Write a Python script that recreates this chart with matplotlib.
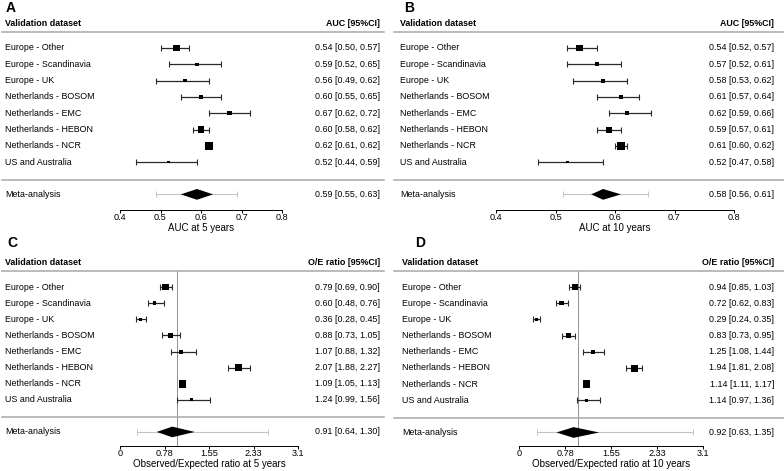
"""
Forest plots: AUC and O/E ratio per validation dataset, with meta-analysis.
"""

import numpy as np
import matplotlib
matplotlib.use("Agg")
import matplotlib.pyplot as plt
from matplotlib import transforms

plt.rcParams['font.family'] = ['Liberation Sans', 'DejaVu Sans']

W, H = 784, 471

datasets = ['Europe - Other', 'Europe - Scandinavia', 'Europe - UK',
            'Netherlands - BOSOM', 'Netherlands - EMC', 'Netherlands - HEBON',
            'Netherlands - NCR', 'US and Australia']

# (A) AUC at 5 years
auc5_est = [0.54, 0.59, 0.56, 0.60, 0.67, 0.60, 0.62, 0.52]
auc5_lo = [0.50, 0.52, 0.49, 0.55, 0.62, 0.58, 0.61, 0.44]
auc5_hi = [0.57, 0.65, 0.62, 0.65, 0.72, 0.62, 0.62, 0.59]
auc5_box = [6.5, 3.5, 3.5, 4.5, 4.5, 6.5, 8, 2.5]   # marker side, px
auc5_meta = (0.59, 0.55, 0.63)
auc5_pi = (0.49, 0.69)

# (B) AUC at 10 years
auc10_est = [0.54, 0.57, 0.58, 0.61, 0.62, 0.59, 0.61, 0.52]
auc10_lo = [0.52, 0.52, 0.53, 0.57, 0.59, 0.57, 0.60, 0.47]
auc10_hi = [0.57, 0.61, 0.62, 0.64, 0.66, 0.61, 0.62, 0.58]
auc10_box = [6.5, 4, 4, 4.5, 4.5, 6, 7.5, 2.5]
auc10_meta = (0.58, 0.56, 0.61)
auc10_pi = (0.513, 0.655)

# (C) O/E at 5 years
oe5_est = [0.79, 0.60, 0.36, 0.88, 1.07, 2.07, 1.09, 1.24]
oe5_lo = [0.69, 0.48, 0.28, 0.73, 0.88, 1.88, 1.05, 0.99]
oe5_hi = [0.90, 0.76, 0.45, 1.05, 1.32, 2.27, 1.13, 1.56]
oe5_box = [6.5, 3.5, 3.5, 4.5, 4, 7, 7.5, 3]
oe5_meta = (0.91, 0.64, 1.30)
oe5_pi = (0.30, 2.58)

# (D) O/E at 10 years
oe10_est = [0.94, 0.72, 0.29, 0.83, 1.25, 1.94, 1.14, 1.14]
oe10_lo = [0.85, 0.62, 0.24, 0.73, 1.08, 1.81, 1.11, 0.97]
oe10_hi = [1.03, 0.83, 0.35, 0.95, 1.44, 2.08, 1.17, 1.36]
oe10_box = [6.5, 4.5, 3, 5, 4.5, 7, 7.5, 3]
oe10_meta = (0.92, 0.63, 1.35)
oe10_pi = (0.30, 2.93)

auc_ticks = [0.4, 0.5, 0.6, 0.7, 0.8]
oe_ticks = [0, 0.78, 1.55, 2.33, 3.1]

fig = plt.figure(figsize=(W / 100, H / 100), dpi=100)

FS = 6.4


def forest(letter, est, lo, hi, box, meta, pi, ticks, xlabel, est_head,
           px_lo, px_hi, row0, sp, top, axis_px, lab_x, right_x,
           line_x, letter_x, refline=None):
    ytop = (top - row0) / sp
    ybot = (axis_px - row0) / sp
    ax = fig.add_axes([px_lo / W, 1 - axis_px / H,
                       (px_hi - px_lo) / W, (axis_px - top) / H])
    ax.set_xlim(ticks[0], ticks[-1])
    ax.set_ylim(ybot, ytop)
    ax.patch.set_alpha(0)
    for s in ['top', 'left', 'right']:
        ax.spines[s].set_visible(False)
    ax.spines['bottom'].set_linewidth(0.7)
    ax.set_yticks([])
    ax.set_xticks(ticks)
    ax.set_xticklabels([f'{t:g}' for t in ticks])
    ax.tick_params(axis='x', length=2.5, width=0.7, labelsize=6.6, pad=0)
    ax.set_xlabel(xlabel, fontsize=7.0, labelpad=0.5)

    tr = transforms.blended_transform_factory(fig.transFigure, ax.transData)
    y_head, y_line1, y_line2, y_meta = -1.5, -0.98, 8.08, 8.98

    fig.text(letter_x / W, 1 - (top + 8) / H, letter, fontsize=10,
             fontweight='bold', va='center')
    ax.text(lab_x / W, y_head, 'Validation dataset', transform=tr,
            fontsize=FS, fontweight='bold', va='center')
    ax.text(right_x / W, y_head, est_head, transform=tr,
            fontsize=FS, fontweight='bold', va='center', ha='right')
    for yl in (y_line1, y_line2):
        ax.plot([line_x[0] / W, line_x[1] / W], [yl, yl], transform=tr,
                color='#a8a8a8', lw=1.1, clip_on=False)

    if refline is not None:
        ax.plot([refline, refline], [y_line1, ybot], color='#909090',
                lw=0.7, zorder=1)

    est = np.array(est)
    lo = np.array(lo)
    hi = np.array(hi)
    rows = np.arange(len(est))
    ax.errorbar(est, rows, xerr=[est - lo, hi - est], fmt='none',
                ecolor='#2a2a2a', elinewidth=0.9, capsize=2.0,
                capthick=0.8, zorder=2)
    ax.scatter(est, rows, marker='s', s=(np.array(box) * 0.72) ** 2,
               color='black', zorder=3, linewidths=0)
    for i, name in enumerate(datasets):
        ax.text(lab_x / W, i, name, transform=tr, fontsize=FS, va='center')
        ax.text(right_x / W, i, f'{est[i]:.2f} [{lo[i]:.2f}, {hi[i]:.2f}]',
                transform=tr, fontsize=FS, va='center', ha='right')

    m, mlo, mhi = meta
    ax.errorbar([m], [y_meta], xerr=[[m - pi[0]], [pi[1] - m]], fmt='none',
                ecolor='#c4c4c4', elinewidth=0.8, capsize=2.0,
                capthick=0.7, zorder=2)
    dh = 0.33
    ax.fill([mlo, m, mhi, m], [y_meta, y_meta - dh, y_meta, y_meta + dh],
            color='black', zorder=3, lw=0)
    ax.text(lab_x / W, y_meta, 'Meta-analysis', transform=tr,
            fontsize=FS, va='center')
    ax.text(right_x / W, y_meta, f'{m:.2f} [{mlo:.2f}, {mhi:.2f}]',
            transform=tr, fontsize=FS, va='center', ha='right')
    return ax


forest('A', auc5_est, auc5_lo, auc5_hi, auc5_box, auc5_meta, auc5_pi,
       auc_ticks, 'AUC at 5 years', 'AUC [95%CI]',
       120, 282, 48, 16.3, 0, 210, 5, 380, (2, 384), 6)
forest('B', auc10_est, auc10_lo, auc10_hi, auc10_box, auc10_meta, auc10_pi,
       auc_ticks, 'AUC at 10 years', 'AUC [95%CI]',
       496, 734, 48, 16.3, 0, 210, 400, 774, (394, 784), 404)
forest('C', oe5_est, oe5_lo, oe5_hi, oe5_box, oe5_meta, oe5_pi,
       oe_ticks, 'Observed/Expected ratio at 5 years', 'O/E ratio [95%CI]',
       120, 298, 287, 16.14, 235, 446, 5, 380, (2, 384), 7, refline=1.0)
forest('D', oe10_est, oe10_lo, oe10_hi, oe10_box, oe10_meta, oe10_pi,
       oe_ticks, 'Observed/Expected ratio at 10 years', 'O/E ratio [95%CI]',
       519, 703, 287, 16.2, 235, 446, 402, 774, (394, 784), 415, refline=1.0)

fig.savefig('out.png', dpi=100)
plt.close(fig)
